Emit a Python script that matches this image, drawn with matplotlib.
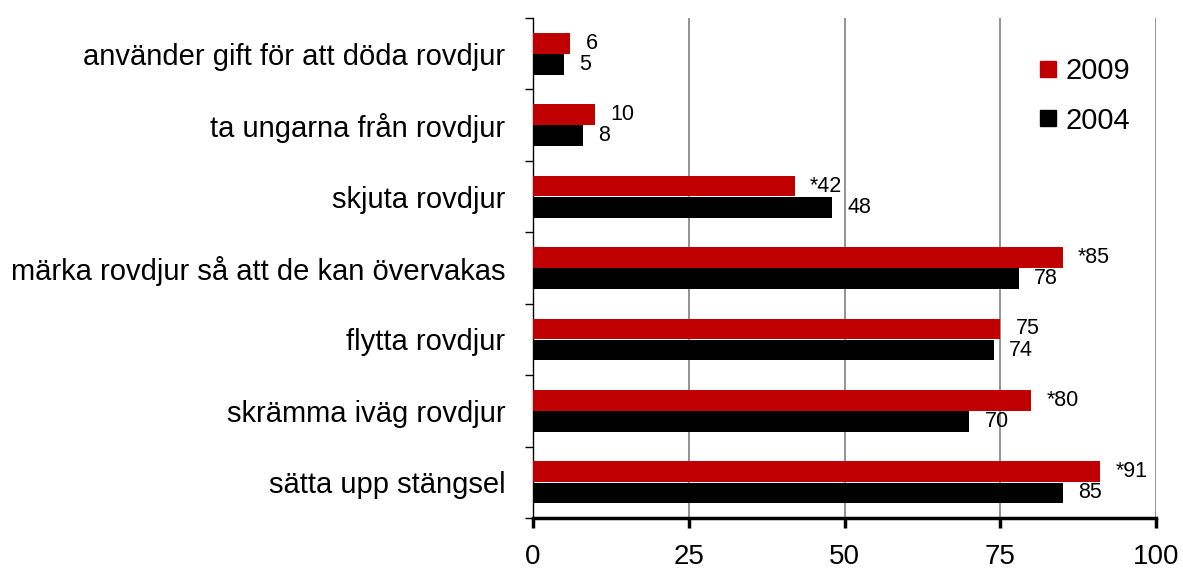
import numpy as np
import matplotlib.pyplot as plt
from matplotlib.lines import Line2D

plt.rcParams['font.family'] = ['Liberation Sans', 'DejaVu Sans']

# Data
categories = ["använder gift för att döda rovdjur",
              "ta ungarna från rovdjur",
              "skjuta rovdjur",
              "märka rovdjur så att de kan övervakas",
              "flytta rovdjur",
              "skrämma iväg rovdjur",
              "sätta upp stängsel"]
values_2009 = [6, 10, 42, 85, 75, 80, 91]
values_2004 = [5, 8, 48, 78, 74, 70, 85]
labels_2009 = ["6", "10", "*42", "*85", "75", "*80", "*91"]
labels_2004 = ["5", "8", "48", "78", "74", "70", "85"]

red = "#c00000"
black = "#000000"

fig = plt.figure(figsize=(11.83, 5.72), dpi=100)
ax = fig.add_axes([0.4506, 0.0944, 0.5266, 0.8741])

y = np.arange(len(categories))
h = 0.29
ax.barh(y - 0.148, values_2009, height=h, color=red, zorder=3)
ax.barh(y + 0.148, values_2004, height=h, color=black, zorder=3)

for yi, v, t in zip(y, values_2009, labels_2009):
    ax.annotate(t, (v, yi - 0.148), xytext=(11, 0), textcoords="offset points",
                ha="left", va="center", fontsize=15.5)
for yi, v, t in zip(y, values_2004, labels_2004):
    ax.annotate(t, (v, yi + 0.148), xytext=(11, 0), textcoords="offset points",
                ha="left", va="center", fontsize=15.5)

ax.set_xlim(0, 100)
ax.set_ylim(len(categories) - 0.5, -0.5)
ax.set_xticks([0, 25, 50, 75, 100])
ax.set_yticks(y)
ax.set_yticklabels(categories, fontsize=21)
ax.set_yticks(np.arange(-0.5, len(categories), 1), minor=True)
ax.tick_params(axis="y", which="major", length=0, pad=20)
ax.tick_params(axis="y", which="minor", length=6, width=1, direction="out")
ax.tick_params(axis="x", length=7, width=2.5, direction="out", labelsize=20, pad=12)

ax.grid(axis="x", color="#808080", linewidth=1.2, zorder=0)
for s in ["top", "right"]:
    ax.spines[s].set_visible(False)
ax.spines["bottom"].set_linewidth(2.5)
ax.spines["left"].set_linewidth(1)

handles = [Line2D([], [], marker="s", linestyle="none", color=red, markersize=11),
           Line2D([], [], marker="s", linestyle="none", color=black, markersize=11)]
ax.legend(handles, ["2009", "2004"], loc="upper left", bbox_to_anchor=(0.771, 0.975),
          frameon=False, fontsize=21, handlelength=0.6, handletextpad=0.3,
          labelspacing=0.75)

plt.savefig("out.png", dpi=100)
